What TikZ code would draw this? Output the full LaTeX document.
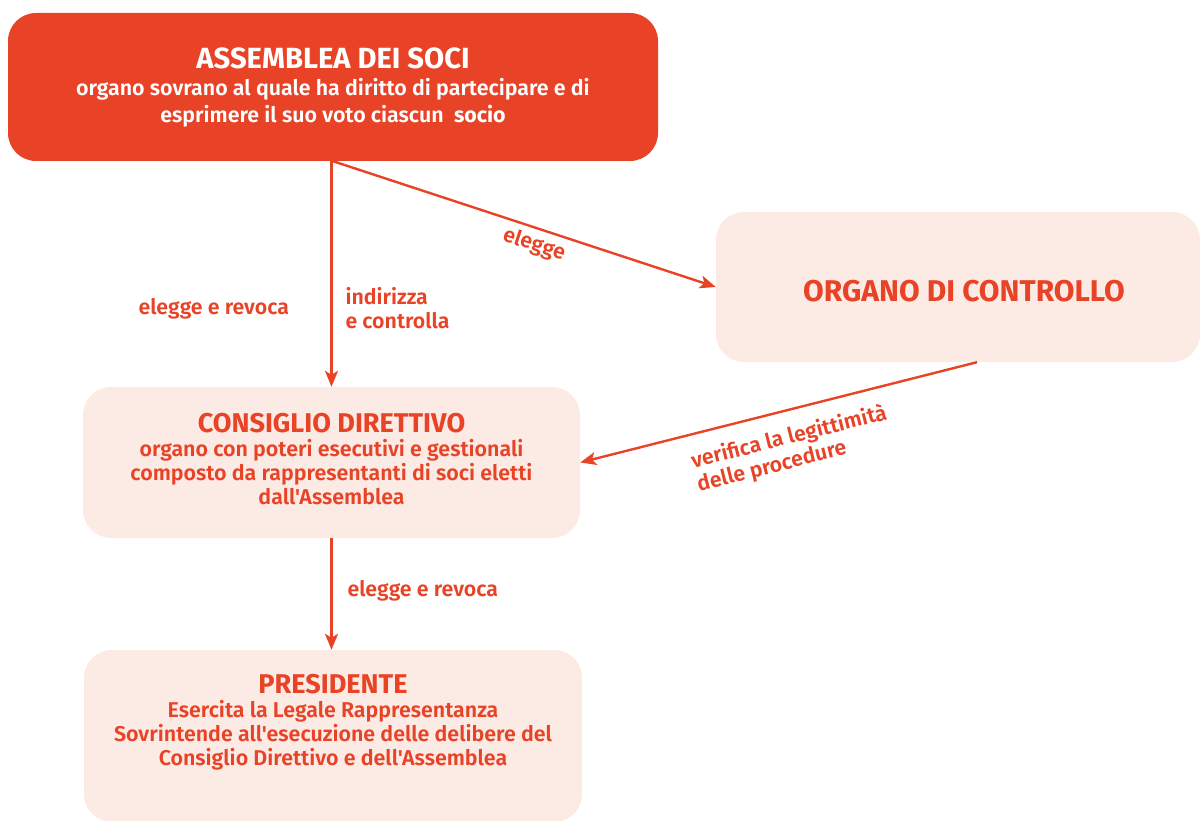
\documentclass[tikz,border=0pt]{standalone}
\usepackage{fontspec}
\setmainfont{Fira Sans}[UprightFont={* SemiBold},BoldFont={* Bold},Ligatures=TeXOff]
\usetikzlibrary{arrows.meta,calc}
\definecolor{dred}{HTML}{E84326}
\definecolor{lpink}{HTML}{FCEAE4}
\begin{document}
\begin{tikzpicture}[x=1pt,y=-1pt,
  bigbox/.style={rounded corners=28pt,inner sep=0pt,align=center},
  arr/.style={draw=dred,line width=2.4pt,-{Stealth[length=16pt,width=13pt,inset=4pt]}},
  lbl/.style={text=dred,font=\fontsize{21.3}{24}\selectfont,align=left},
  body/.style={text=dred,align=center,font=\fontsize{21.4}{24}\selectfont}
]
\useasboundingbox (0,0) rectangle (1201,821);
\node[bigbox,fill=dred,text=white,minimum width=650pt,minimum height=148pt,font=\fontsize{21.4}{27}\selectfont] (A) at (333,87)
  {{\bfseries\fontsize{29.2}{32}\selectfont ASSEMBLEA DEI SOCI}\\organo sovrano al quale ha diritto di partecipare e di\\esprimere il suo voto ciascun\ \ \textbf{socio}};
\node[bigbox,fill=lpink,minimum width=484pt,minimum height=150pt] (O) at (958,287) {};
\node[text=dred,font=\bfseries\fontsize{30}{32}\selectfont] (Ot) at (964,291) {ORGANO DI CONTROLLO};
\node[bigbox,fill=lpink,minimum width=497pt,minimum height=151pt] (C) at (331.5,462.5) {};
\node[body] (Ct) at (331.5,459)
  {{\bfseries\fontsize{27.1}{27}\selectfont CONSIGLIO DIRETTIVO}\\organo con poteri esecutivi e gestionali\\composto da rappresentanti di soci eletti\\dall'Assemblea};
\node[bigbox,fill=lpink,minimum width=498pt,minimum height=172pt] (P) at (333,736) {};
\node[body] (Pt) at (333,722)
  {{\bfseries\fontsize{27.1}{27}\selectfont PRESIDENTE}\\Esercita la Legale Rappresentanza\\Sovrintende all'esecuzione delle delibere del\\Consiglio Direttivo e dell'Assemblea};
\draw[arr] (C.north |- A.south) -- (C.north);
\draw[arr] (A.south) -- (O.west);
\draw[arr] ([xshift=19pt]O.south) -- (C.east);
\draw[arr] (C.south) -- (C.south |- P.north);
\node[lbl,anchor=west] (l1) at (135,309) {elegge e revoca};
\node[lbl,anchor=west] (l2) at (342,308) {indirizza\\e controlla};
\node[lbl,rotate=-18.3] (l3) at (534,245) {elegge};
\node[lbl,rotate=14.1] (l4) at (792,449) {verifica la legittimità\\delle procedure};
\node[lbl,anchor=west] (l5) at (344,591) {elegge e revoca};
\end{tikzpicture}
\end{document}
